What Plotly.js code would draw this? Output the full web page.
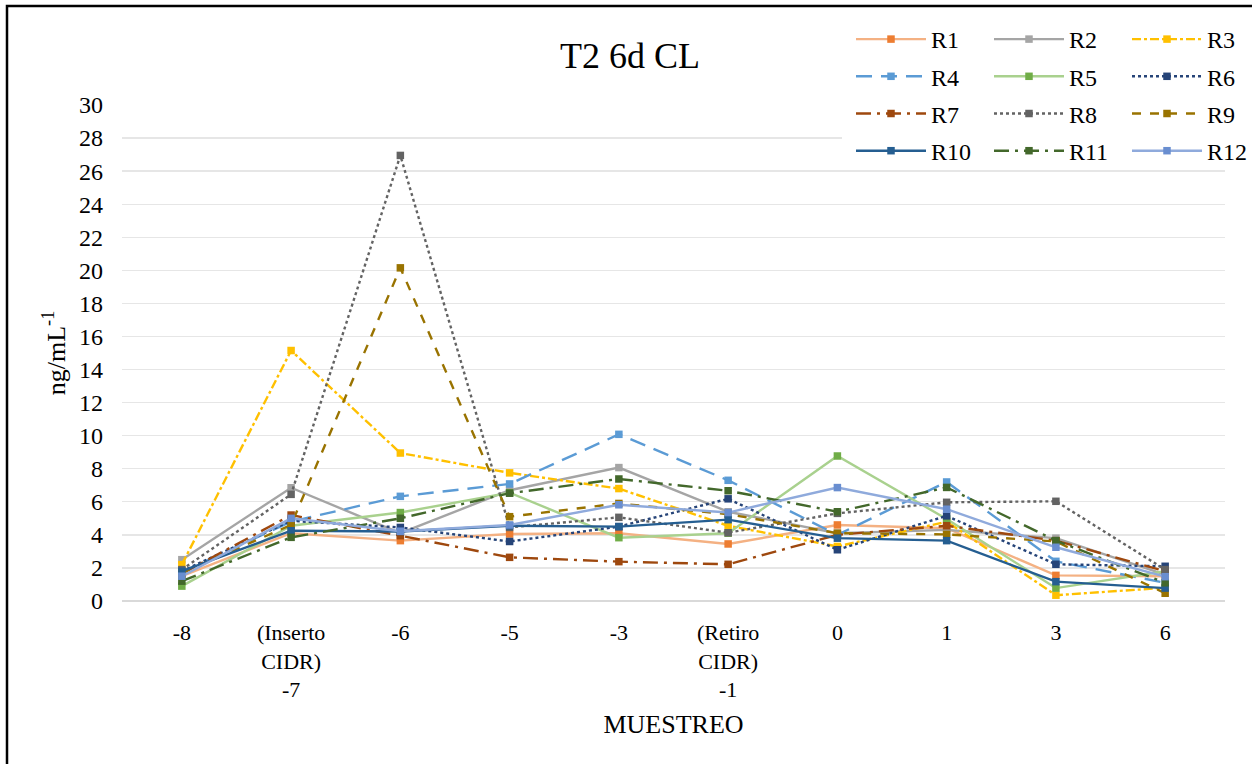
<!DOCTYPE html>
<html>
<head>
<meta charset="utf-8">
<script src="https://cdn.plot.ly/plotly-3.0.1.min.js"></script>
<style>
html,body{margin:0;padding:0;background:#fff;}
#chart{width:1252px;height:764px;}
</style>
</head>
<body>
<div id="chart"></div>
<script>
const categories = ['-8', '(Inserto<br>CIDR)<br>-7', '-6', '-5', '-3', '(Retiro<br>CIDR)<br>-1', '0', '1', '3', '6'];
const seriesNames = ['R1','R2','R3','R4','R5','R6','R7','R8','R9','R10','R11','R12'];
const R1  = [1.5, 4.1, 3.65, 4.05, 4.1, 3.45, 4.6, 4.4, 1.55, 1.5];
const R2  = [2.5, 6.85, 4.1, 6.7, 8.07, 5.4, 4.1, 4.3, 3.8, 1.6];
const R3  = [2.2, 15.15, 8.95, 7.75, 6.8, 4.55, 3.3, 4.8, 0.35, 0.8];
const R4  = [1.75, 4.8, 6.33, 7.08, 10.08, 7.3, 4.0, 7.2, 2.4, 1.1];
const R5  = [0.9, 4.55, 5.35, 6.55, 3.83, 4.1, 8.77, 4.96, 0.78, 1.8];
const R6  = [1.8, 4.85, 4.45, 3.6, 4.5, 6.18, 3.1, 5.15, 2.22, 2.1];
const R7  = [1.65, 5.2, 3.95, 2.64, 2.38, 2.22, 4.0, 4.55, 3.65, 1.8];
const R8  = [1.9, 6.45, 26.95, 4.45, 5.06, 4.13, 5.3, 5.97, 6.03, 1.9];
const R9  = [1.7, 4.6, 20.15, 5.1, 5.9, 5.25, 4.1, 4.03, 3.6, 0.47];
const R10 = [1.8, 4.25, 4.2, 4.55, 4.5, 4.92, 3.8, 3.65, 1.17, 0.78];
const R11 = [1.2, 3.85, 5.0, 6.52, 7.38, 6.67, 5.4, 6.87, 3.65, 1.1];
const R12 = [1.5, 5.0, 4.22, 4.6, 5.82, 5.35, 6.86, 5.55, 3.25, 1.47];
const seriesValues = [R1,R2,R3,R4,R5,R6,R7,R8,R9,R10,R11,R12];

const styles = [
  {line:'#f4b183', marker:'#ed7d31', dash:'solid'},
  {line:'#a5a5a5', marker:'#a5a5a5', dash:'solid'},
  {line:'#ffc000', marker:'#ffc000', dash:'dashdot'},
  {line:'#5b9bd5', marker:'#5b9bd5', dash:'16px,9px'},
  {line:'#a9d18e', marker:'#70ad47', dash:'solid'},
  {line:'#264478', marker:'#264478', dash:'dot'},
  {line:'#9e480e', marker:'#9e480e', dash:'longdashdot'},
  {line:'#636363', marker:'#636363', dash:'dot'},
  {line:'#997300', marker:'#997300', dash:'dash'},
  {line:'#255e91', marker:'#255e91', dash:'solid'},
  {line:'#43682b', marker:'#43682b', dash:'longdashdot'},
  {line:'#8faadc', marker:'#698ed0', dash:'solid'}
];
const legendIds = ['legend','legend2','legend3'];

const FONT = 'Liberation Serif';
const traces = seriesNames.map((name, i) => ({
  type: 'scatter', mode: 'lines+markers',
  x: categories, y: seriesValues[i], name: name,
  legend: legendIds[i % 3], legendgroup: name,
  line: {color: styles[i].line, width: 2.4, dash: styles[i].dash},
  marker: {symbol: 'square', size: 7.5, color: styles[i].marker}
}));

function legendCfg(px) {
  return {
    x: (px - 122) / 1103, xanchor: 'left',
    y: 1 + (105 - 17) / 496, yanchor: 'top',
    bgcolor: 'rgba(255,255,255,0)', borderwidth: 0,
    font: {family: FONT, size: 24, color: '#000'},
    itemwidth: 70, tracegroupgap: 3, orientation: 'v'
  };
}

const layout = {
  width: 1252, height: 764,
  paper_bgcolor: '#fff', plot_bgcolor: '#fff',
  margin: {l: 122, r: 27, t: 105, b: 163, autoexpand: false},
  font: {family: FONT, color: '#000', size: 22},
  title: {text: 'T2 6d CL', font: {family: FONT, size: 36, color: '#000'},
          xref: 'container', x: 630/1252, xanchor: 'center', yref: 'container', y: 1 - 55/764, yanchor: 'middle'},
  xaxis: {
    type: 'category', showgrid: false, zeroline: false, automargin: false,
    showline: false, ticks: '', ticklabelstandoff: 16,
    tickfont: {family: FONT, size: 22, color: '#000'},
    title: {text: 'MUESTREO', font: {family: FONT, size: 26, color: '#000'}, standoff: 13}
  },
  yaxis: {
    range: [0, 30], dtick: 2, tick0: 0, automargin: false,
    showgrid: true, gridcolor: '#e6e6e6', gridwidth: 1.3,
    zeroline: true, zerolinecolor: '#d9d9d9', zerolinewidth: 2,
    showline: false, ticks: '', ticklabelstandoff: 18,
    tickfont: {family: FONT, size: 24, color: '#000'},
    title: {text: 'ng/mL<sup>-1</sup>', font: {family: FONT, size: 26, color: '#000'}, standoff: 5}
  },
  showlegend: true,
  legend: legendCfg(851),
  legend2: legendCfg(989),
  legend3: legendCfg(1127),
  shapes: [
    {type: 'rect', xref: 'paper', yref: 'paper', layer: 'above',
     x0: (842 - 122) / 1103, x1: (1252 - 122) / 1103,
     y0: 1 + (105 - 167) / 496, y1: 1 + (105 - 15) / 496,
     fillcolor: '#fff', line: {width: 0}},
    {type: 'rect', xref: 'paper', yref: 'paper', layer: 'above',
     x0: (7 - 122) / 1103, x1: 1.2,
     y0: -0.5, y1: 1 + (105 - 6) / 496,
     fillcolor: 'rgba(0,0,0,0)', line: {color: '#000', width: 2.5}}
  ]
};

Plotly.newPlot('chart', traces, layout, {displayModeBar: false, staticPlot: true});
</script>
</body>
</html>
